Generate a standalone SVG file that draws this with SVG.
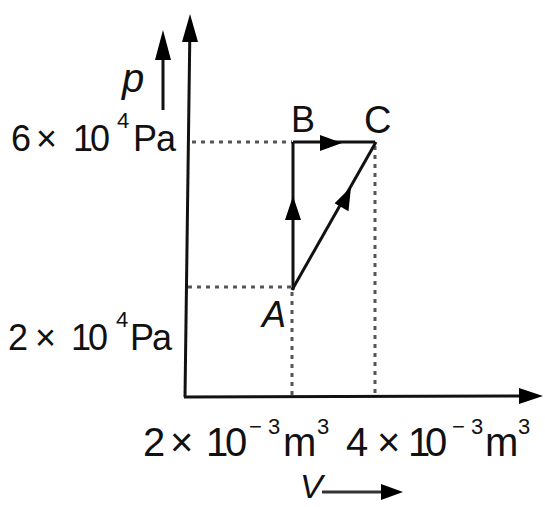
<svg xmlns="http://www.w3.org/2000/svg" width="545" height="507" viewBox="0 0 545 507">
<style>
text{font-family:"Liberation Sans",Arial,sans-serif;fill:#111}
.lab{font-size:36px}
.xl{font-size:40px}
.sup{font-size:22px}
.it{font-style:italic}
.axis{stroke:#111;stroke-width:3;fill:none}
.path{stroke:#111;stroke-width:3;fill:none}
.dot{stroke:#555;stroke-width:3;stroke-dasharray:4 5;fill:none}
.head{fill:#000}
</style>
<rect width="545" height="507" fill="#fff"/>
<g id="axes">
<line class="axis" x1="190" y1="22" x2="185" y2="397"/>
<polygon class="head" points="190,14 182,42 198,42"/>
<line class="axis" x1="184" y1="397" x2="525" y2="396"/>
<polygon class="head" points="543,396 519,388 519,404"/>
</g>
<g id="p-label">
<text class="it" x="122" y="92" font-size="40">p</text>
<line class="axis" x1="163" y1="110" x2="163" y2="50"/>
<polygon class="head" points="163,30 155,60 171,60"/>
</g>
<g id="v-label">
<text class="it" x="300" y="498" font-size="34">V</text>
<line stroke="#333" stroke-width="3" x1="322" y1="492" x2="385" y2="492"/>
<polygon class="head" points="403,492 381,484 381,500"/>
</g>
<g id="y-ticks">
<text class="lab" x="11 36 73 90" y="151">6×10</text>
<text class="sup" x="117" y="128">4</text>
<text class="lab" x="133 156" y="151">Pa</text>
<text class="lab" x="8 35 71 88" y="350">2×10</text>
<text class="sup" x="116" y="327">4</text>
<text class="lab" x="130 152" y="350">Pa</text>
</g>
<g id="x-ticks">
<text class="xl" x="143 170 206 225" y="456">2×10</text>
<text class="sup" x="249 268" y="434" font-size="24">−3</text>
<text class="xl" x="283" y="456">m</text>
<text class="sup" x="317" y="434" font-size="24">3</text>
<text class="xl" x="346 377 408 425" y="456">4×10</text>
<text class="sup" x="452 471" y="434" font-size="24">−3</text>
<text class="xl" x="485" y="456">m</text>
<text class="sup" x="518" y="434" font-size="24">3</text>
</g>
<g id="guides">
<line class="dot" x1="192" y1="142" x2="292" y2="142"/>
<line class="dot" x1="188" y1="287" x2="292" y2="287"/>
<line class="dot" x1="292" y1="292" x2="292" y2="396"/>
<line class="dot" stroke="#333" x1="375" y1="146" x2="375" y2="396"/>
</g>
<g id="node-A">
<text class="it" x="262" y="327" font-size="36">A</text>
</g>
<g id="node-B">
<text x="291" y="132" font-size="36">B</text>
</g>
<g id="node-C">
<text x="364" y="133" font-size="38">C</text>
</g>
<g id="connectors">
<line class="path" x1="293" y1="290" x2="293" y2="142"/>
<polygon class="head" points="293,196 285,220 301,220"/>
<line class="path" x1="293" y1="142" x2="375" y2="142"/>
<polygon class="head" points="342,143 320,135 320,151"/>
<line class="path" x1="292" y1="290" x2="376" y2="142"/>
<polygon class="head" points="351,187 348.5,211.2 334.6,203.3"/>
</g>
</svg>
